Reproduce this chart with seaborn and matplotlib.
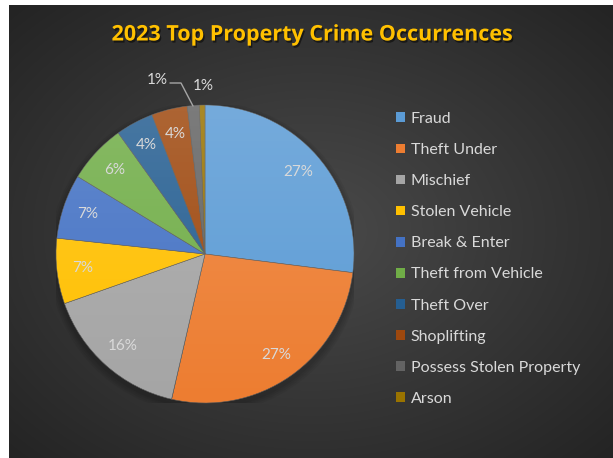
import numpy as np
import matplotlib
matplotlib.use("Agg")
import matplotlib.pyplot as plt
import matplotlib.patheffects as pe
import seaborn as sns

categories = ["Fraud", "Theft Under", "Mischief", "Stolen Vehicle", "Break & Enter",
              "Theft from Vehicle", "Theft Over", "Shoplifting",
              "Possess Stolen Property", "Arson"]
shares = [27.0, 26.6, 16.0, 7.1, 7.0, 6.4, 4.1, 3.9, 1.3, 0.6]
colors = ["#5B9BD5", "#ED7D31", "#A5A5A5", "#FFC000", "#4472C4",
          "#70AD47", "#255E91", "#9E480E", "#636363", "#997300"]
title = "2023 Top Property Crime Occurrences"

sns.set_style("dark")
plt.rcParams['font.family'] = ['Lato', 'DejaVu Sans']
palette = sns.color_palette(colors)

W, H = 613, 458
fig = plt.figure(figsize=(W / 100, H / 100), dpi=100)
fig.patch.set_facecolor("white")

# background radial gradient (chart area from x=9, y=5)
bg = fig.add_axes([9 / W, 0, (W - 9) / W, (H - 5) / H])
bg.set_axis_off()
yy, xx = np.mgrid[0:H - 5, 0:W - 9]
cx, cy = (W - 9) / 2, (H - 5) / 2
d = np.sqrt(((xx - cx) / cx) ** 2 + ((yy - cy) / cy) ** 2) / np.sqrt(2)
val = 0.29 - 0.15 * d
img = np.dstack([val, val, val])
bg.imshow(img, aspect="auto", extent=[0, 1, 0, 1], zorder=0)
bg.set_xlim(0, 1)
bg.set_ylim(0, 1)

# pie axes: center (205,254) px, radius 149 px
R = 149
cxp, cyp = 205, 254
ax = fig.add_axes([(cxp - R) / W, (H - cyp - R) / H, 2 * R / W, 2 * R / H])
ax.set_axis_off()

# soft shadow under the pie
for i, a in enumerate([0.05, 0.05, 0.05, 0.06]):
    ax.add_patch(plt.Circle((0.0, -0.025), 1.0 + 0.012 * (4 - i), color="black",
                            alpha=a, zorder=0, lw=0))

wedges, texts, autotexts = ax.pie(
    shares, colors=palette, startangle=90, counterclock=False, radius=1.0,
    autopct="%1.0f%%", pctdistance=0.83,
    wedgeprops=dict(linewidth=0.4, edgecolor="#5a5a5a"),
    textprops=dict(color="#D9D9D9", fontsize=11))
ax.set_xlim(-1, 1)
ax.set_ylim(-1, 1)

# vertical light gradient overlay on the pie
grad = np.linspace(0.16, 0.0, 256).reshape(-1, 1)
overlay = np.zeros((256, 1, 4))
overlay[..., :3] = 1.0
overlay[..., 3] = grad
im = ax.imshow(overlay, extent=[-1, 1, -1, 1], aspect="auto", zorder=3,
               origin="upper")
circ = plt.Circle((0, 0), 1.0, transform=ax.transData)
im.set_clip_path(circ)
ax.set_xlim(-1, 1)
ax.set_ylim(-1, 1)
for t in autotexts:
    t.set_zorder(5)

# move the two small labels outside
def px2data(x, y):
    return ((x - cxp) / R, -(y - cyp) / R)

autotexts[8].set_position(px2data(157, 80))
autotexts[9].set_position(px2data(203, 86))
ax.plot(*zip(px2data(170, 83), px2data(181, 83), px2data(193, 106)),
        color="#A6A6A6", lw=1.0, zorder=4, clip_on=False)

# legend
leg = fig.legend(wedges, categories, loc="upper left",
                 bbox_to_anchor=(396 / W, 1 - 112 / H), frameon=False,
                 fontsize=11.5, labelcolor="#D9D9D9", handlelength=0.56,
                 handleheight=0.56, handletextpad=0.37, labelspacing=1.07,
                 borderpad=0, borderaxespad=0)
for h in leg.legend_handles:
    h.set_linewidth(0)

fig.text(312 / W, 1 - 35 / H, title, ha="center", va="center",
         color="#FFC000", fontsize=15.5, fontweight="bold",
         family=["Open Sans", "DejaVu Sans"],
         path_effects=[pe.withSimplePatchShadow(offset=(1, -1.5), shadow_rgbFace="black", alpha=0.5)])

fig.savefig("out.png", dpi=100, facecolor=fig.get_facecolor())
